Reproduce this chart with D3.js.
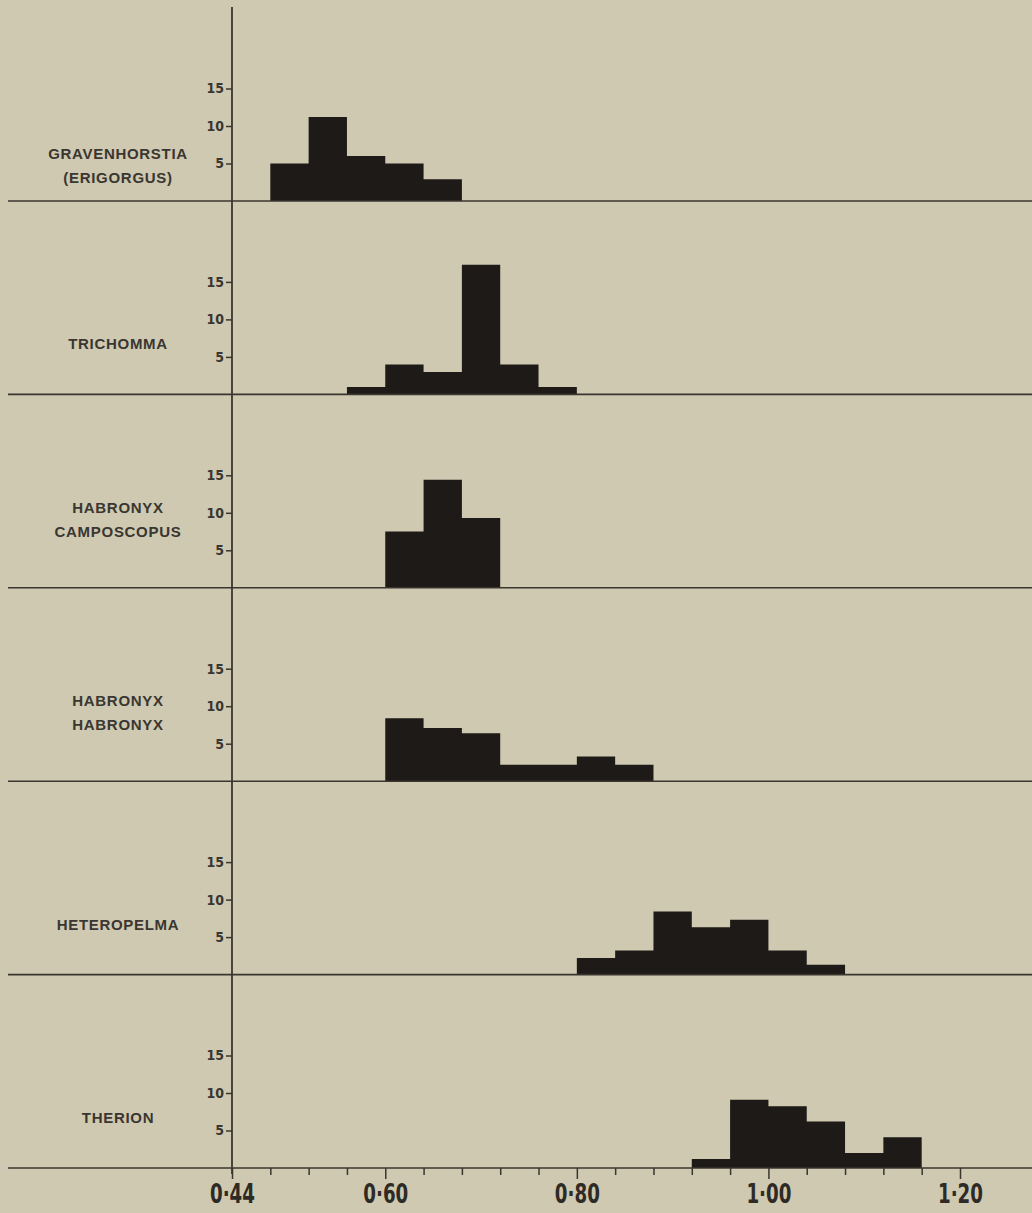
<!DOCTYPE html>
<html>
<head>
<meta charset="utf-8">
<script src="https://cdn.jsdelivr.net/npm/d3@7"></script>
<style>
  body { margin: 0; background: #cec9b0; }
  svg { display: block; }
  .genus { font-family: "Liberation Sans", Arial, sans-serif; font-weight: bold; font-size: 15px; letter-spacing: 0.7px; fill: #3a3631; }
  .yax text { font-family: "Liberation Sans Narrow", "DejaVu Sans Condensed", sans-serif; font-stretch: condensed; font-weight: bold; font-size: 14px; fill: #3a3631; }
  .xax text { font-family: "Liberation Sans Narrow", "DejaVu Sans Condensed", sans-serif; font-stretch: condensed; font-weight: bold; font-size: 26px; fill: #2e2a26; }
</style>
</head>
<body>
<svg width="1032" height="1213"></svg>
<script>
// genus names (one entry per panel, lines split by "|")
let genera = ["GRAVENHORSTIA|(ERIGORGUS)", "TRICHOMMA", "HABRONYX|CAMPOSCOPUS",
  "HABRONYX|HABRONYX", "HETEROPELMA", "THERION"];

// first bin edge of each histogram, bins are 0.04 wide
let binStart = [0.48, 0.56, 0.60, 0.60, 0.80, 0.92];
let binWidth = 0.04;

// bar heights
let gravenhorstia = [5, 11.2, 6, 5, 2.9];
let trichomma = [1, 4, 3, 17.3, 4, 1];
let camposcopus = [7.5, 14.4, 9.3];
let habronyx = [8.4, 7.1, 6.4, 2.2, 2.2, 3.3, 2.2];
let heteropelma = [2.2, 3.2, 8.4, 6.3, 7.3, 3.2, 1.3];
let therion = [1.2, 9.1, 8.25, 6.2, 2.0, 4.1];

let series = [gravenhorstia, trichomma, camposcopus, habronyx, heteropelma, therion];

let yTicks = [5, 10, 15];
let xTicks = d3.range(0, 20).map(i => +(0.44 + i * 0.04).toFixed(2));
let xLabels = [0.44, 0.60, 0.80, 1.00, 1.20];

let svg = d3.select("svg"),
  ink = "#3b3530",
  barColor = "#1d1a17";

let x = d3.scaleLinear().domain([0.44, 1.20]).range([232, 960]);

// baseline of each panel
let base = d3.scaleLinear().domain([0, 5]).range([201, 1168]);

let isLabel = d => xLabels.some(l => Math.abs(l - d) < 1e-6);

series.forEach((vals, i) => {
  let b = base(i);
  let y = d3.scaleLinear().domain([0, 20]).range([b, b - 150]);
  let g = svg.append("g");

  let bins = vals.map((v, j) => {
    let x0 = +(binStart[i] + j * binWidth).toFixed(2);
    return { x0: x0, x1: x0 + binWidth, v: v };
  });

  // histogram drawn as one stepped area so neighbouring bars show no seam
  let steps = bins.concat([{ x0: bins[bins.length - 1].x1, v: bins[bins.length - 1].v }]);
  let area = d3.area()
    .curve(d3.curveStepAfter)
    .x(d => x(d.x0))
    .y0(y(0))
    .y1(d => y(d.v));

  g.append("path")
    .datum(steps)
    .attr("d", area)
    .attr("fill", barColor);

  // panel baseline
  g.append("line")
    .attr("x1", 8).attr("x2", 1032)
    .attr("y1", b).attr("y2", b)
    .attr("stroke", ink).attr("stroke-width", 1.6);

  // count ticks
  let ay = g.append("g")
    .attr("class", "yax")
    .attr("transform", "translate(" + x(0.44) + ",0)")
    .call(d3.axisLeft(y).tickValues(yTicks).tickSize(6).tickPadding(2));
  ay.select(".domain").remove();
  ay.selectAll("line").attr("stroke", ink).attr("stroke-width", 1.5);

  // genus label
  let lines = genera[i].split("|");
  let offs = lines.length === 1 ? [-49] : (i === 0 ? [-46, -22] : [-79, -55]);
  g.selectAll("text.genus")
    .data(lines)
    .enter().append("text")
    .attr("class", "genus")
    .attr("x", 118)
    .attr("y", (d, k) => b + offs[k])
    .attr("text-anchor", "middle")
    .attr("dominant-baseline", "middle")
    .text(d => d);
});

// vertical axis
svg.append("line")
  .attr("x1", x(0.44)).attr("x2", x(0.44))
  .attr("y1", 7).attr("y2", base(5) + 6)
  .attr("stroke", ink).attr("stroke-width", 1.8);

// x axis ticks and labels
let ax = svg.append("g")
  .attr("class", "xax")
  .attr("transform", "translate(0," + base(5) + ")")
  .call(d3.axisBottom(x).tickValues(xTicks).tickSize(7).tickPadding(10)
    .tickFormat(d => isLabel(d) ? d3.format(".2f")(d).replace(".", "\u00b7") : ""));
ax.select(".domain").remove();
ax.selectAll("line")
  .attr("stroke", ink).attr("stroke-width", 1.5)
  .attr("y2", d => isLabel(d) ? 11 : 7);
// narrow the labels like the condensed type of the original
ax.selectAll("text").attr("transform", "scale(0.78,1)");
</script>
</body>
</html>
